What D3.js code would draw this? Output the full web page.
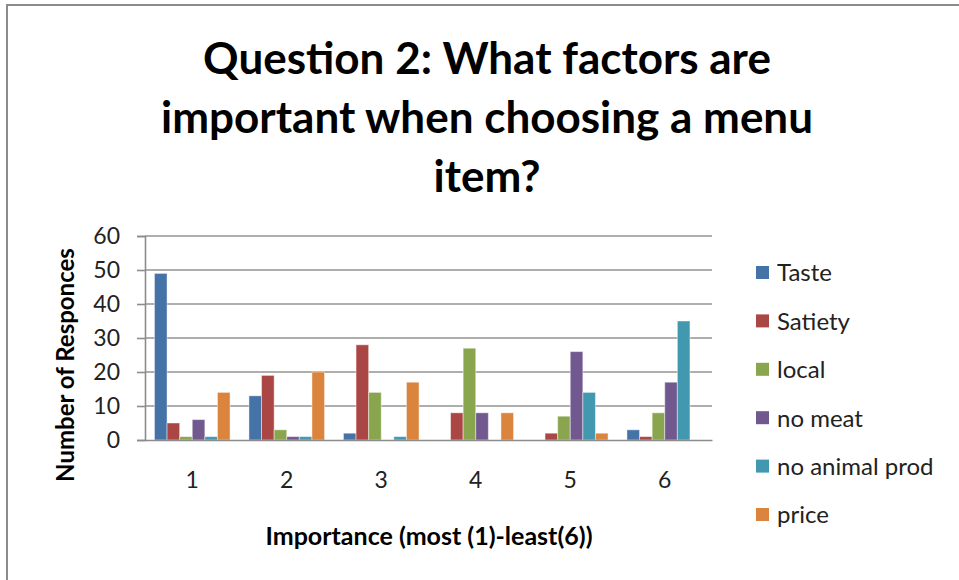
<!DOCTYPE html>
<html>
<head>
<meta charset="utf-8">
<script src="https://cdn.jsdelivr.net/npm/d3@7"></script>
<style>
  html, body { margin: 0; padding: 0; background: #fff; }
  svg { display: block; font-family: Lato, "Open Sans", sans-serif; }
</style>
</head>
<body>
<div id="chart"></div>
<script>
const categories = ['1', '2', '3', '4', '5', '6'];
const seriesNames = ['Taste', 'Satiety', 'local', 'no meat', 'no animal prod', 'price'];
const taste    = [49, 13, 2, 0, 0, 3];
const satiety  = [5, 19, 28, 8, 2, 1];
const local    = [1, 3, 14, 27, 7, 8];
const noMeat   = [6, 1, 0, 8, 26, 17];
const noAnimal = [1, 1, 1, 0, 14, 35];
const price    = [14, 20, 17, 8, 2, 0];
const yTicks   = [0, 10, 20, 30, 40, 50, 60];
const titleLines = ['Question 2: What factors are', 'important when choosing a menu', 'item?'];

const seriesValues = [taste, satiety, local, noMeat, noAnimal, price];
const colors = ['#4572a7', '#aa4643', '#89a54e', '#71588f', '#4198af', '#db843d'];

const W = 959, H = 580;
const plot = { left: 145, right: 712, top: 236, bottom: 440 };

const svg = d3.select('#chart').append('svg')
  .attr('width', W).attr('height', H);

// cadre (seulement haut et gauche visibles)
svg.append('path')
  .attr('d', `M7,${H} L7,5 L${W},5`)
  .attr('fill', 'none').attr('stroke', '#8c8c8c').attr('stroke-width', 2);

// titre
svg.append('g').selectAll('text')
  .data(titleLines)
  .join('text')
  .attr('x', 487)
  .attr('y', (d, i) => 74 + i * 59)
  .attr('text-anchor', 'middle')
  .attr('font-size', 44).attr('font-weight', 'bold')
  .attr('fill', '#000')
  .text(d => d);

const x0 = d3.scaleBand().domain(categories)
  .range([plot.left, plot.right]).paddingInner(0.2).paddingOuter(0.1);
const x1 = d3.scaleBand().domain(seriesNames).range([0, x0.bandwidth()]);
const y = d3.scaleLinear().domain([0, 60]).range([plot.bottom, plot.top]);

// grille
svg.append('g').selectAll('line')
  .data(yTicks.filter(t => t > 0))
  .join('line')
  .attr('x1', plot.left).attr('x2', plot.right)
  .attr('y1', d => y(d)).attr('y2', d => y(d))
  .attr('stroke', '#939393').attr('stroke-width', 1.6);

// axe y
const yAxis = svg.append('g')
  .attr('transform', `translate(${plot.left},0)`)
  .call(d3.axisLeft(y).tickValues(yTicks).tickSize(8).tickPadding(17));
yAxis.select('.domain').attr('stroke', '#8c8c8c').attr('stroke-width', 1.6);
yAxis.selectAll('.tick line').attr('stroke', '#8c8c8c').attr('stroke-width', 1.6);
yAxis.selectAll('.tick text')
  .attr('font-size', 23).attr('fill', '#222').attr('font-family', 'Lato, sans-serif');

// barres
const groups = svg.append('g').selectAll('g')
  .data(categories)
  .join('g')
  .attr('transform', d => `translate(${x0(d)},0)`);

groups.selectAll('rect')
  .data((c, ci) => seriesNames.map((s, si) => ({ s, si, v: seriesValues[si][ci] })))
  .join('rect')
  .filter(d => d.v > 0)
  .attr('x', d => x1(d.s))
  .attr('y', d => y(d.v))
  .attr('width', x1.bandwidth())
  .attr('height', d => y(0) - y(d.v))
  .attr('fill', d => colors[d.si])
  .attr('stroke', '#ffffff').attr('stroke-opacity', 0.45).attr('stroke-width', 1);

// axe x
const xAxis = svg.append('g')
  .attr('transform', `translate(0,${plot.bottom})`)
  .call(d3.axisBottom(x0).tickSize(0).tickPadding(32));
xAxis.select('.domain').attr('stroke', '#8c8c8c').attr('stroke-width', 1.6);
xAxis.selectAll('.tick text')
  .attr('font-size', 23).attr('fill', '#222').attr('font-family', 'Lato, sans-serif');

// titres des axes
svg.append('text')
  .attr('transform', 'translate(74,365) rotate(-90)')
  .attr('text-anchor', 'middle')
  .attr('font-size', 24).attr('font-weight', 'bold')
  .text('Number of Responces');

svg.append('text')
  .attr('x', 429).attr('y', 545)
  .attr('text-anchor', 'middle')
  .attr('font-size', 25).attr('font-weight', 'bold')
  .text('Importance (most (1)-least(6))');

// légende
const legend = svg.append('g').selectAll('g')
  .data(seriesNames)
  .join('g')
  .attr('transform', (d, i) => `translate(756,${273 + i * 48.4})`);

legend.append('rect')
  .attr('x', 0).attr('y', -7).attr('width', 13).attr('height', 13)
  .attr('fill', (d, i) => colors[i]);

legend.append('text')
  .attr('x', 21).attr('y', 0).attr('dy', '0.35em')
  .attr('font-size', 24).attr('fill', '#222')
  .text(d => d);
</script>
</body>
</html>
